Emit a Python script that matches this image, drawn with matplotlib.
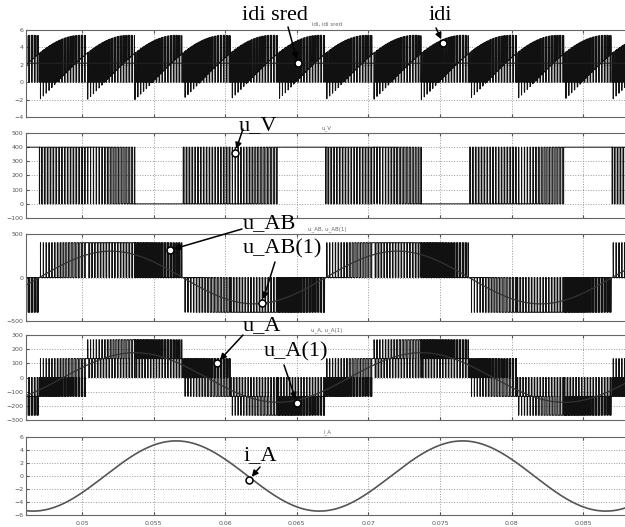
import numpy as np
import matplotlib.pyplot as plt

# inverter parameters
f_out = 50.0            # output frequency (one period = 4 grid divisions)
f_sw = 5000.0           # carrier frequency
u_dc = 400.0            # dc link voltage
m_index = 0.875         # u_A(1) peak ~ 175 V
i_peak = 5.4            # i_A peak
phi_deg = 52.0          # current lag
clamp_deg = 30.0        # DPWM clamp shift
t_zero = 0.04869        # rising zero of u_A(1)
t_span = [0.046089, 0.088128]

x_ticks = [0.05, 0.055, 0.06, 0.065, 0.07, 0.075, 0.08, 0.085]
x_labels = ['0.05', '0.055', '0.06', '0.065', '0.07', '0.075', '0.08', '0.085']

titles = ['idi, idi sred', 'u_V', 'u_AB, u_AB(1)', 'u_A, u_A(1)', 'i_A']
y_lims = [(-4, 6), (-100, 500), (-500, 500), (-300, 300), (-6, 6)]
y_ticks = [[-4, -2, 0, 2, 4, 6],
           [-100, 0, 100, 200, 300, 400, 500],
           [-500, 0, 500],
           [-300, -200, -100, 0, 100, 200, 300],
           [-6, -4, -2, 0, 2, 4, 6]]

# annotation: label, panel, time, value, text centre px, arrow start px
notes = [
    ('idi sred', 0, 0.06508, None, (275, 16), (288, 27)),
    ('idi', 0, 0.07521, 4.5, (440, 15), (436, 28)),
    ('u_V', 1, 0.06068, 359, (258, 126), (243, 129)),
    ('u_AB', 2, 0.05615, 316, (269, 224), (242, 229)),
    ('u_AB(1)', 2, 0.06257, -293, (282, 249), (275, 262)),
    ('u_A', 3, 0.05943, 102, (262, 326), (243, 335)),
    ('u_A(1)', 3, 0.06501, -180, (296, 352), (284, 365)),
    ('i_A', 4, 0.06166, -0.6, (260, 456), (260, 467)),
]

# ---- switching simulation
t = np.arange(t_span[0], t_span[1], 5e-7)
alpha = 2 * np.pi * f_out * (t - t_zero)
shifts = np.deg2rad([0.0, -120.0, 120.0])
v_ref = np.array([m_index * np.sin(alpha + s) for s in shifts])
sel = np.array([np.sin(alpha + s + np.deg2rad(clamp_deg)) for s in shifts])
k = np.argmax(np.abs(sel), axis=0)
cols = np.arange(len(t))
offset = np.sign(sel[k, cols]) - v_ref[k, cols]
v_mod = np.clip(v_ref + offset, -1, 1)
carrier = 2 * np.abs(2 * ((t * f_sw) % 1.0) - 1) - 1
S = (v_mod >= carrier).astype(float)
for r in range(3):
    S[r, k == r] = (np.sign(sel[k, cols]) > 0)[k == r]

i_ph = np.array([i_peak * np.sin(alpha + s - np.deg2rad(phi_deg)) for s in shifts])
idi = (S * i_ph).sum(axis=0)
idi_sred = np.full_like(t, idi.mean())
u_V = u_dc * S[2]
u_AB = u_dc * (S[0] - S[1])
u_AB1 = np.sqrt(3) * m_index * u_dc / 2 * np.sin(alpha + np.pi / 6)
u_A = u_dc / 3 * (2 * S[0] - S[1] - S[2])
u_A1 = m_index * u_dc / 2 * np.sin(alpha)
i_A = i_ph[0]

# ---- figure
W, H = 625, 527
fig = plt.figure(figsize=(W / 100, H / 100), dpi=100)
boxes = [(30, 117), (133, 218), (234, 321), (335, 420), (437, 515)]
axes = []
for i, (top, bot) in enumerate(boxes):
    ax = fig.add_axes([26 / W, 1 - bot / H, (628 - 26) / W, (bot - top) / H])
    ax.set_xlim(t_span)
    ax.set_ylim(y_lims[i])
    ax.set_yticks(y_ticks[i])
    ax.set_xticks(x_ticks)
    ax.grid(True, linestyle=':', color='#999999', lw=0.7)
    ax.tick_params(direction='in', length=2, top=True, labelsize=4.5,
                   colors='#555555', pad=2)
    ax.tick_params(axis='x', pad=4)
    if i < 4:
        ax.set_xticklabels([])
    else:
        ax.set_xticklabels(x_labels)
    for sp in ax.spines.values():
        sp.set_color('#666666')
        sp.set_linewidth(0.8)
    ax.set_title(titles[i], fontsize=4, color='#666666', pad=3)
    axes.append(ax)

bar = dict(color='#111111', lw=0.7, drawstyle='steps-post')
axes[0].plot(t, idi, **bar)
axes[0].plot(t, idi_sred, color='#222222', lw=0.8)
axes[1].plot(t, u_V, **bar)
axes[2].plot(t, u_AB, **bar)
axes[2].plot(t, u_AB1, color='#333333', lw=0.9)
axes[3].plot(t, u_A, **bar)
axes[3].plot(t, u_A1, color='#333333', lw=0.9)
axes[4].plot(t, i_A, color='#555555', lw=1.2)

for label, p, tt, val, (tx, ty), (sx, sy) in notes:
    ax = axes[p]
    if val is None:
        val = idi_sred[0]
    ax.annotate('', xy=(tt, val), xytext=(sx, H - sy), textcoords='figure pixels',
                arrowprops=dict(arrowstyle='-|>', color='k', lw=1.1, shrinkA=0,
                                shrinkB=3, mutation_scale=9))
    ax.plot([tt], [val], 'o', mfc='white', mec='black', ms=5, mew=1.1, zorder=5)
    fig.text(tx / W, 1 - ty / H, label, fontsize=16, family='Liberation Serif',
             ha='center', va='center')

fig.savefig('out.png', dpi=100)
